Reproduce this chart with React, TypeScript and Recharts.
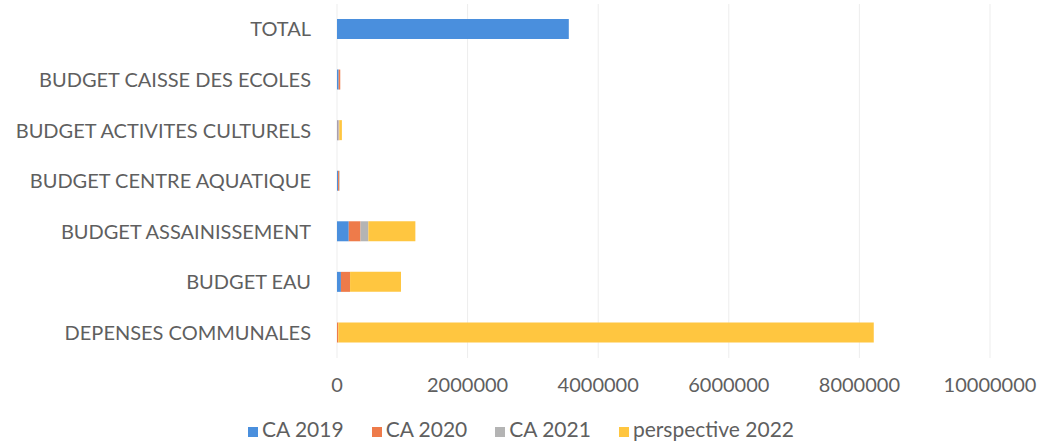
import { BarChart, Bar, XAxis, YAxis, CartesianGrid, Legend } from "recharts"

// Catégories (de haut en bas)
const categories = [
  "TOTAL",
  "BUDGET CAISSE DES ECOLES",
  "BUDGET ACTIVITES CULTURELS",
  "BUDGET CENTRE AQUATIQUE",
  "BUDGET ASSAINISSEMENT",
  "BUDGET EAU",
  "DEPENSES COMMUNALES",
]

const ca2019 = [3550000, 25000, 10000, 15000, 180000, 60000, 0]
const ca2020 = [0, 25000, 10000, 15000, 180000, 140000, 20000]
const ca2021 = [0, 0, 15000, 10000, 120000, 0, 0]
const perspective2022 = [0, 0, 40000, 0, 720000, 780000, 8200000]

const xTicks = [0, 2000000, 4000000, 6000000, 8000000, 10000000]

const data = categories.map((name, i) => ({
  name,
  ca2019: ca2019[i],
  ca2020: ca2020[i],
  ca2021: ca2021[i],
  p2022: perspective2022[i],
}))

const FONT = "Lato, 'Open Sans', sans-serif"
const TEXT = "#5f5f5f"

export default function App() {
  return (
    <div style={{ position: "absolute", left: 0, top: 0, background: "#fff", fontFamily: FONT }}>
      <BarChart
        layout="vertical"
        width={1041}
        height={441}
        data={data}
        margin={{ top: 4, right: 51, left: 0, bottom: 0 }}
        barSize={20}
      >
        <CartesianGrid horizontal={false} stroke="#ededed" />
        <XAxis
          type="number"
          domain={[0, 10000000]}
          ticks={xTicks}
          axisLine={false}
          tickLine={false}
          tick={{ fontSize: 20, fill: TEXT, fontFamily: FONT }}
          tickMargin={14}
          height={58}
        />
        <YAxis
          type="category"
          dataKey="name"
          width={337}
          axisLine={false}
          tickLine={false}
          tick={{ fontSize: 20, fill: TEXT, fontFamily: FONT }}
          tickMargin={20}
        />
        <Legend
          verticalAlign="bottom"
          align="center"
          iconType="square"
          iconSize={10}
          wrapperStyle={{ fontSize: 21, color: TEXT, fontFamily: FONT, paddingLeft: 40 }}
          formatter={(v: string) => <span style={{ color: TEXT, marginRight: 18 }}>{v}</span>}
        />
        <Bar dataKey="ca2019" name="CA 2019" stackId="a" fill="#4A8FDD" isAnimationActive={false} />
        <Bar dataKey="ca2020" name="CA 2020" stackId="a" fill="#EE7B4A" isAnimationActive={false} />
        <Bar dataKey="ca2021" name="CA 2021" stackId="a" fill="#B4B4B4" isAnimationActive={false} />
        <Bar dataKey="p2022" name="perspective 2022" stackId="a" fill="#FFC640" isAnimationActive={false} />
      </BarChart>
    </div>
  )
}
